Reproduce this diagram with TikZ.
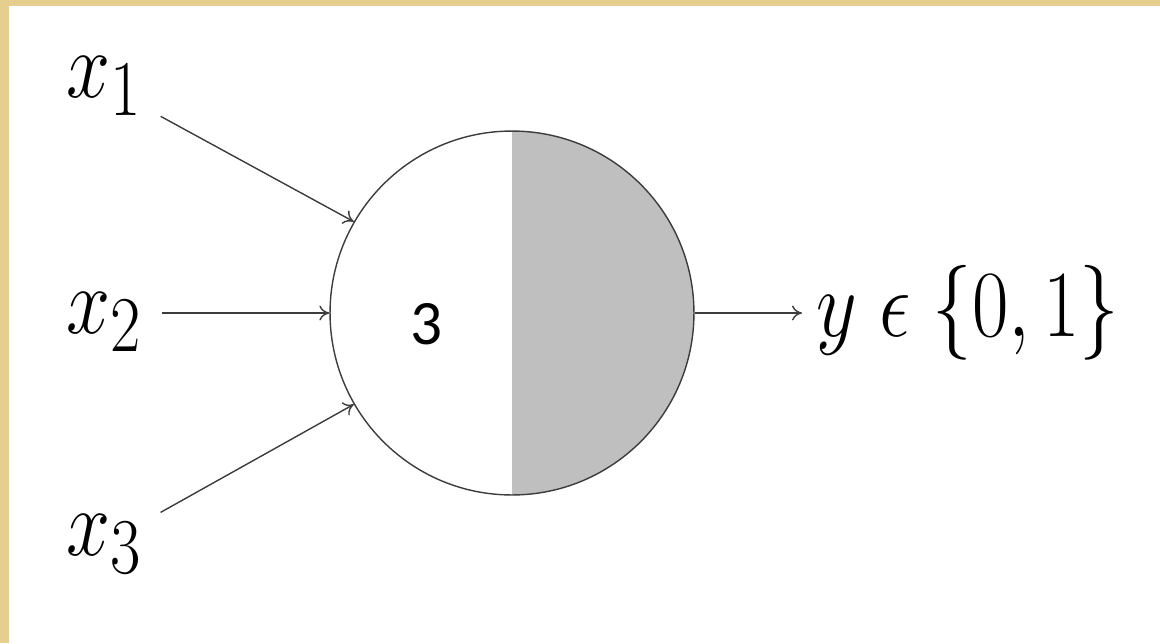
\documentclass[tikz,border=0pt]{standalone}
\usepackage{fontspec}
\usetikzlibrary{arrows.meta,positioning,calc}
\newfontfamily\countfont{Carlito}
\definecolor{Ink}{HTML}{3C3C3C}
\definecolor{Shade}{HTML}{BFBFBF}
\definecolor{Frame}{HTML}{E6CE8E}

\begin{document}
\begin{tikzpicture}[x=0.02cm,y=-0.02cm,
  lbl/.style={inner sep=0pt,font=\Huge,xscale=1.81,yscale=2.17,transform shape},
  wire/.style={-{To[length=0.2cm,width=0.3cm]},Ink,line width=0.8pt}]
\useasboundingbox (0,0) rectangle (1160,643);
% frame strips
\fill[Frame] (0,0) rectangle (9,643);
\fill[Frame] (0,0) rectangle (1160,6);
% neuron
\node[circle,draw=Ink,line width=0.8pt,minimum size=7.28cm,inner sep=0pt,
  path picture={\fill[Shade] (path picture bounding box.north) rectangle (path picture bounding box.south east);}]
  (neuron) at (512,313) {};
\node[font=\countfont\fontsize{36}{40}\selectfont,inner sep=0pt] (count) at (427,324) {3};
% inputs
\node[lbl,anchor=base west] (x1) at (66,97) {$x_1$};
\node[lbl,anchor=base west] (x2) at (66,333) {$x_2$};
\node[lbl,anchor=base west] (x3) at (66,555) {$x_3$};
% output
\node[lbl,anchor=base west] (out) at (816,336) {$y\mathrel{\epsilon}\{0,1\}$};
\draw[wire,shorten <=0.4cm] (x1) -- (neuron.150);
\draw[wire,shorten <=0.38cm] (neuron.west -| x2.east) -- (neuron.west);
\draw[wire,shorten <=0.4cm] (x3) -- (neuron.210);
\draw[wire,shorten >=0.28cm] (neuron.east) -- (out.west |- neuron.east);
\end{tikzpicture}
\end{document}
